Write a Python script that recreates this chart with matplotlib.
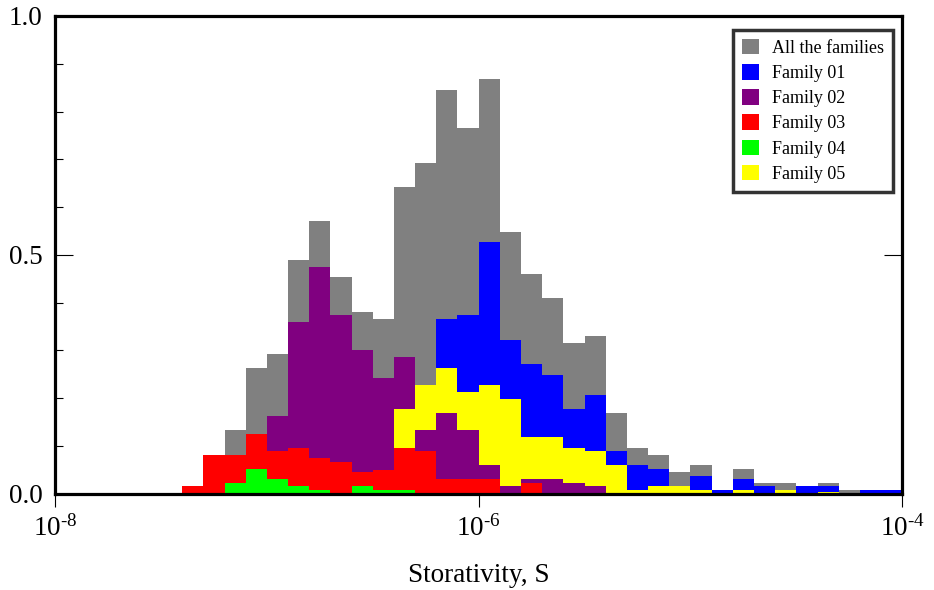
import numpy as np
import matplotlib
matplotlib.use("Agg")
import matplotlib.pyplot as plt
from matplotlib.patches import Patch
from matplotlib.ticker import MultipleLocator, FixedLocator, NullLocator

plt.rcParams['font.family'] = ['Liberation Serif', 'DejaVu Serif']
plt.rcParams['mathtext.fontset'] = 'custom'
plt.rcParams['mathtext.rm'] = 'Liberation Serif'
plt.rcParams['mathtext.it'] = 'Liberation Serif:italic'

# bins: left edges in log10(S), 0.1 decade wide
log_left = np.round(np.arange(-7.4, -4.0 + 1e-9, 0.1), 1)[:34]
bin_w = 0.1

# relative frequencies, one value per bin
all_fam = [0.017, 0.081, 0.134, 0.264, 0.292, 0.489, 0.570, 0.453, 0.380, 0.365,
           0.643, 0.693, 0.846, 0.766, 0.868, 0.547, 0.459, 0.409, 0.315, 0.330,
           0.169, 0.096, 0.081, 0.046, 0.061, 0.008, 0.052, 0.023, 0.023, 0.017,
           0.023, 0.008, 0.008, 0.008]
fam01 = [0, 0, 0, 0, 0, 0, 0, 0, 0, 0,
         0, 0, 0.365, 0.374, 0.526, 0.321, 0.271, 0.248, 0.177, 0.207,
         0.090, 0.061, 0.052, 0, 0.038, 0.008, 0.031, 0.017, 0, 0.017,
         0.017, 0, 0.008, 0.008]
fam02 = [0, 0, 0, 0, 0.163, 0.359, 0.474, 0.374, 0.301, 0.242,
         0.286, 0.134, 0.169, 0.134, 0.061, 0.017, 0.031, 0.031, 0.023, 0.017,
         0, 0, 0, 0.008, 0, 0, 0, 0, 0, 0,
         0, 0, 0, 0]
fam03 = [0.017, 0.081, 0.081, 0.125, 0.090, 0.096, 0.075, 0.067, 0.046, 0.050,
         0.096, 0.090, 0.031, 0.031, 0.031, 0, 0.023, 0, 0, 0,
         0, 0, 0, 0, 0, 0, 0, 0, 0, 0,
         0, 0, 0, 0]
fam04 = [0, 0, 0.023, 0.052, 0.031, 0.017, 0.008, 0, 0.017, 0.008,
         0.008, 0, 0, 0, 0, 0, 0, 0, 0, 0,
         0, 0, 0, 0, 0, 0, 0, 0, 0, 0,
         0, 0, 0, 0]
fam05 = [0, 0, 0, 0, 0, 0, 0, 0, 0, 0,
         0.177, 0.228, 0.263, 0.213, 0.228, 0.198, 0.119, 0.119, 0.096, 0.090,
         0.061, 0.008, 0.017, 0.017, 0.008, 0, 0.008, 0, 0.008, 0,
         0.003, 0, 0, 0]

series = [
    ('All the families', all_fam, '#808080'),
    ('Family 01', fam01, '#0000ff'),
    ('Family 02', fam02, '#800080'),
    ('Family 03', fam03, '#ff0000'),
    ('Family 04', fam04, '#00ff00'),
    ('Family 05', fam05, '#ffff00'),
]

fig = plt.figure(figsize=(9.34, 5.9), dpi=100)
ax = fig.add_axes([0.059, 0.163, 0.907, 0.81])
ax.set_xscale('log')

left = 10.0 ** log_left
width = 10.0 ** (log_left + bin_w) - left

for k, (name, vals, col) in enumerate(series):
    bars = ax.bar(left, vals, width=width, align='edge', color=col, linewidth=0)
    # taller bars go behind, so every family stays visible in each bin
    for p, h in zip(bars.patches, vals):
        p.set_zorder(1.0 + (1.0 - h) + 0.01 * k)

ax.set_xlim(1e-8, 1e-4)
ax.set_ylim(0, 1.0)

ax.xaxis.set_major_locator(FixedLocator([1e-8, 1e-6, 1e-4]))
ax.xaxis.set_minor_locator(NullLocator())
ax.set_xticklabels([r'$10^{\text{-8}}$', r'$10^{\text{-6}}$', r'$10^{\text{-4}}$'])
ax.set_yticks([0.0, 0.5, 1.0])
ax.set_yticklabels(['0.0', '0.5', '1.0'])
ax.yaxis.set_minor_locator(MultipleLocator(0.1))

ax.tick_params(axis='x', which='major', direction='out', length=9, width=0.8,
               labelsize=19.5, pad=6, top=False)
ax.tick_params(axis='y', which='major', direction='in', length=13, width=0.8,
               labelsize=19.5, pad=9, left=True, right=True)
ax.tick_params(axis='y', which='minor', direction='in', length=6, width=0.8,
               left=True, right=False)

for s in ax.spines.values():
    s.set_linewidth(2.3)

ax.set_xlabel('Storativity, S', fontsize=19.5, labelpad=16)

handles = [Patch(facecolor=c, edgecolor='none', label=n) for n, v, c in series]
leg = ax.legend(handles=handles, loc='upper right', bbox_to_anchor=(0.989, 0.971),
                borderaxespad=0, fontsize=13, frameon=True, fancybox=False,
                handlelength=0.95, handleheight=0.95, handletextpad=0.7,
                labelspacing=0.4, borderpad=0.5)
leg.get_frame().set_edgecolor('black')
leg.get_frame().set_linewidth(2.5)
leg.set_zorder(5)

fig.savefig('out.png', dpi=100)
